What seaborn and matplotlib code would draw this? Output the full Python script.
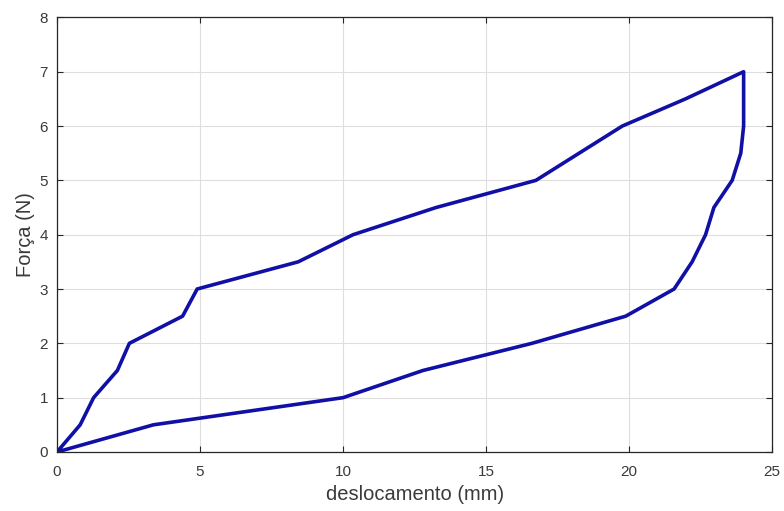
import matplotlib
matplotlib.use("Agg")
import matplotlib.pyplot as plt
import seaborn as sns
import pandas as pd

# Loading branch (displacement in mm, force in N)
load_disp = [0.0, 0.81, 1.28, 2.11, 2.53, 4.39, 4.90, 8.43, 10.35, 13.25, 16.74, 18.25, 19.76, 21.97, 24.0]
load_force = [0.0, 0.5, 1.0, 1.5, 2.0, 2.5, 3.0, 3.5, 4.0, 4.5, 5.0, 5.5, 6.0, 6.5, 7.0]

# Unloading branch
unload_disp = [24.0, 24.0, 23.9, 23.6, 22.96, 22.67, 22.2, 21.57, 19.88, 16.6, 12.79, 10.0, 3.37, 0.0]
unload_force = [7.0, 6.0, 5.5, 5.0, 4.5, 4.0, 3.5, 3.0, 2.5, 2.0, 1.5, 1.0, 0.5, 0.0]

x_ticks = [0, 5, 10, 15, 20, 25]
y_ticks = [0, 1, 2, 3, 4, 5, 6, 7, 8]

disp = load_disp + unload_disp
force = load_force + unload_force
df = pd.DataFrame({"deslocamento": disp, "forca": force})

sns.set_theme(style="white")
plt.rcParams["font.family"] = ["Liberation Sans", "DejaVu Sans"]

fig = plt.figure(figsize=(7.84, 5.11), dpi=100)
ax = fig.add_axes([0.0727, 0.1155, 0.9123, 0.8505])

sns.lineplot(data=df, x="deslocamento", y="forca", sort=False, estimator=None,
             color="#1010a6", linewidth=2.6, ax=ax)

ax.set_xlim(0, 25)
ax.set_ylim(0, 8)
ax.set_xticks(x_ticks)
ax.set_yticks(y_ticks)
ax.grid(True, color="#dedede", linewidth=0.8)
ax.set_axisbelow(True)
for s in ax.spines.values():
    s.set_visible(True)
    s.set_color("#262626")
    s.set_linewidth(0.9)
text_color = "#3a3a3a"
ax.tick_params(direction="in", length=4, width=0.8, colors="#262626",
               labelsize=11, labelcolor=text_color,
               top=True, right=True, bottom=True, left=True)
ax.tick_params(axis="x", pad=9.5)
ax.tick_params(axis="y", pad=6.5)
ax.set_xlabel("deslocamento (mm)", fontsize=14.5, color=text_color, labelpad=4)
ax.set_ylabel("Força (N)", fontsize=14.5, color=text_color, labelpad=3)

fig.savefig("out.png", dpi=100, facecolor="white")
